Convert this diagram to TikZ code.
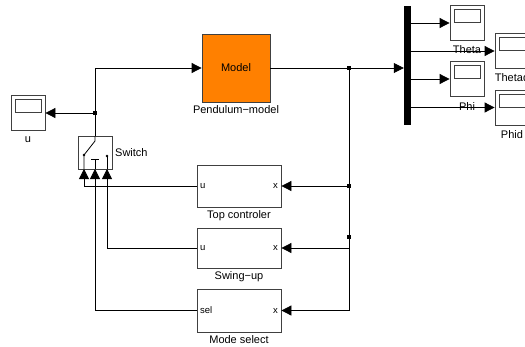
\documentclass[tikz,border=0pt]{standalone}
\usepackage{fontspec}
\setmainfont{Liberation Sans}
\usetikzlibrary{arrows.meta}
\definecolor{modelorange}{rgb}{1.0, 0.5, 0.0}
\definecolor{blockgray}{rgb}{0.25, 0.25, 0.25}
\tikzstyle{block} = [rectangle, draw=blockgray, line width=0.8pt, inner sep=0pt, font=\fontsize{11}{13}\selectfont]
\tikzstyle{scopeblock} = [rectangle, draw=blockgray, line width=0.8pt, minimum width=34pt, minimum height=35pt, inner sep=0pt, path picture={\draw[blockgray, line width=0.8pt] ([xshift=4pt,yshift=-4pt]path picture bounding box.north west) rectangle ([xshift=-4pt,yshift=-17pt]path picture bounding box.north east);}]
\tikzstyle{blocklabel} = [font=\fontsize{11}{13}\selectfont, inner sep=0pt]
\tikzstyle{portlabel} = [font=\fontsize{9.5}{11}\selectfont, inner sep=0pt]
\tikzstyle{signal} = [line width=0.8pt, -{Triangle[length=10pt,width=10pt]}]
\tikzstyle{junction} = [rectangle, fill=black, minimum size=3.5pt, inner sep=0pt]

\begin{document}
\begin{tikzpicture}[x=1pt,y=-1pt]
    \useasboundingbox (0,0) rectangle (525,346);
    \clip (0,0) rectangle (525,346);

    % Pendulum model
    \node (model) at (236,68) [block, fill=modelorange, minimum width=68pt, minimum height=68pt] {Model};
    \node (modellabel) at (236,110) [blocklabel] {Pendulum−model};

    % Scope for u
    \node (uscope) at (28,113) [scopeblock] {};
    \node (ulabel) at (28,140) [blocklabel] {u};

    % Switch block
    \node (switch) at (95,152.5) [block, minimum width=34pt, minimum height=33pt] {};
    \node (switchlabel) at (115,153) [blocklabel, anchor=west] {Switch};
    \coordinate (swout) at (95,136);
    \coordinate (swin1) at (84,169);
    \coordinate (swin2) at (95,169);
    \coordinate (swin3) at (107,169);
    \draw[line width=0.8pt] (swin1) -- (84,155) -- (95,141) -- (swout);
    \draw[line width=0.8pt] (91,159) -- (99,159) (swin2) -- (95,159);
    \draw[line width=0.8pt] (swin3) -- (107,156);
    \fill (84,155) circle (1.3pt) (107,156) circle (1.3pt);

    % Controllers
    \node (top) at (239,186) [block, minimum width=84pt, minimum height=42pt] {};
    \node (topu) at (200,186) [portlabel, anchor=west] {u};
    \node (topx) at (278,186) [portlabel, anchor=east] {x};
    \node (toplabel) at (239,216) [blocklabel] {Top controler};

    \node (swing) at (239,248) [block, minimum width=84pt, minimum height=40pt] {};
    \node (swingu) at (200,248) [portlabel, anchor=west] {u};
    \node (swingx) at (278,248) [portlabel, anchor=east] {x};
    \node (swinglabel) at (239,277) [blocklabel] {Swing−up};

    \node (mode) at (239,310.5) [block, minimum width=84pt, minimum height=43pt] {};
    \node (modesel) at (200,310.5) [portlabel, anchor=west] {sel};
    \node (modex) at (278,310.5) [portlabel, anchor=east] {x};
    \node (modelabel) at (239,340) [blocklabel] {Mode select};

    % Mux and output scopes
    \node (mux) at (407.5,65.5) [rectangle, fill=black, minimum width=7pt, minimum height=119pt, inner sep=0pt] {};
    \node (theta) at (467,23) [scopeblock] {};
    \node (thetalabel) at (467,50) [blocklabel] {Theta};
    \node (thetad) at (512,51) [scopeblock] {};
    \node (thetadlabel) at (512,78) [blocklabel] {Thetad};
    \node (phi) at (467,79) [scopeblock] {};
    \node (philabel) at (467,107) [blocklabel] {Phi};
    \node (phid) at (512,107.5) [scopeblock] {};
    \node (phidlabel) at (512,135) [blocklabel] {Phid};

    % Signal lines
    \node (j1) at (349,68) [junction] {};
    \node (j2) at (349,186) [junction] {};
    \node (j3) at (349,237) [junction] {};
    \node (j4) at (95,113) [junction] {};

    \draw[signal] (model.east) -- (mux.west |- model.east);
    \draw[signal] (j1.center) |- (mode.east);
    \draw[signal] (j2.center) -- (top.east);
    \draw[signal] (j3.center) |- (swing.east);

    \draw[signal] (top.west) -| (swin1);
    \draw[signal] (mode.west) -| (swin2);
    \draw[signal] (swing.west) -| (swin3);

    \draw[signal] (swout) |- (model.west);
    \draw[signal] (j4.center) -- (uscope.east);

    \draw[signal] (mux.east |- theta.west) -- (theta.west);
    \draw[signal] (mux.east |- thetad.west) -- (thetad.west);
    \draw[signal] (mux.east |- phi.west) -- (phi.west);
    \draw[signal] (mux.east |- phid.west) -- (phid.west);

\end{tikzpicture}
\end{document}
